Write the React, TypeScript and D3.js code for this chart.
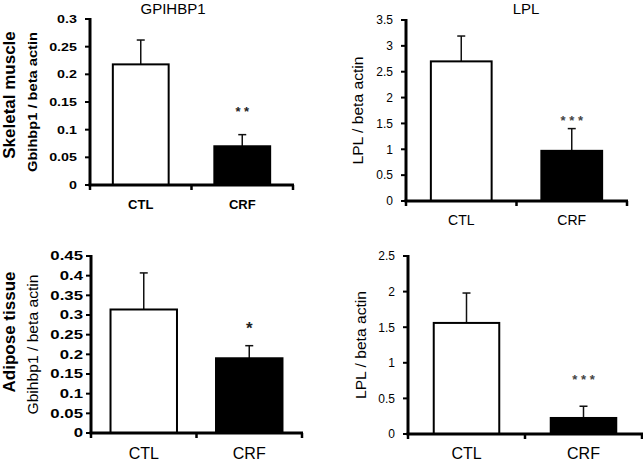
import React from "react";
import * as d3 from "d3";

const categories = ["CTL", "CRF"];

const gpMuscleMean = [0.218, 0.07];
const gpMuscleSem = [0.044, 0.021];
const gpMuscleTicks = [0, 0.05, 0.1, 0.15, 0.2, 0.25, 0.3];
const gpMuscleSig = ["", "* *"];

const lplMuscleMean = [2.7, 0.97];
const lplMuscleSem = [0.49, 0.43];
const lplMuscleTicks = [0, 0.5, 1, 1.5, 2, 2.5, 3, 3.5];
const lplMuscleSig = ["", "* * *"];

const gpAdiposeMean = [0.314, 0.19];
const gpAdiposeSem = [0.093, 0.032];
const gpAdiposeTicks = [0, 0.05, 0.1, 0.15, 0.2, 0.25, 0.3, 0.35, 0.4, 0.45];
const gpAdiposeSig = ["", "*"];

const lplAdiposeMean = [1.56, 0.225];
const lplAdiposeSem = [0.42, 0.165];
const lplAdiposeTicks = [0, 0.5, 1, 1.5, 2, 2.5];
const lplAdiposeSig = ["", "* * *"];

const FONT = "'Liberation Sans', Arial, sans-serif";

type PanelProps = {
  means: number[];
  sems: number[];
  ticks: number[];
  sig: string[];
  x0: number;
  x1: number;
  yTop: number;
  yBottom: number;
  barRatio: number;
  tickFont: number;
  tickBold: boolean;
  tickSx: number;
  tickGap: number;
  catFont: number;
  catBold: boolean;
  catBaseline: number;
  ylabel: string;
  ylabelX: number;
  ylabelLen: number;
  ylabelFont: number;
  ylabelBold: boolean;
  sigFont: number;
  sigColor: string;
  sigY: number;
};

function Panel(p: PanelProps) {
  const maxV = p.ticks[p.ticks.length - 1];
  const y = d3.scaleLinear().domain([0, maxV]).range([p.yBottom, p.yTop]);
  const x = d3.scaleBand<string>().domain(categories).range([p.x0, p.x1]).padding(0);
  const bw = x.bandwidth() * p.barRatio;
  const ymid = (p.yTop + p.yBottom) / 2;
  const fmt = (v: number) => String(+v.toFixed(2));
  const boundaries = [p.x0, ...categories.slice(1).map((c) => x(c) as number), p.x1];
  return (
    <g>
      {categories.map((c, i) => {
        const cx = (x(c) as number) + x.bandwidth() / 2;
        const top = y(p.means[i]);
        const et = y(p.means[i] + p.sems[i]);
        return (
          <g key={c}>
            <line x1={cx} x2={cx} y1={top} y2={et} stroke="#111" strokeWidth={1.5} />
            <line x1={cx - 4} x2={cx + 4} y1={et} y2={et} stroke="#111" strokeWidth={1.5} />
            <rect
              x={cx - bw / 2}
              y={top}
              width={bw}
              height={p.yBottom - top}
              fill={i === 0 ? "#fff" : "#000"}
              stroke="#000"
              strokeWidth={2}
            />
            {p.sig[i] && (
              <text
                x={cx}
                y={p.sigY + p.sigFont * 0.55}
                textAnchor="middle"
                fontFamily={FONT}
                fontWeight="bold"
                fontSize={p.sigFont}
                fill={p.sigColor}
              >
                {p.sig[i]}
              </text>
            )}
            <text
              x={cx}
              y={p.catBaseline}
              textAnchor="middle"
              fontFamily={FONT}
              fontWeight={p.catBold ? "bold" : "normal"}
              fontSize={p.catFont}
              fill="#000"
            >
              {c}
            </text>
          </g>
        );
      })}
      {/* y axis */}
      <line x1={p.x0} x2={p.x0} y1={p.yTop - 1} y2={p.yBottom + 1} stroke="#000" strokeWidth={3} />
      {p.ticks.map((t) => (
        <g key={t}>
          <line x1={p.x0 - 5} x2={p.x0} y1={y(t)} y2={y(t)} stroke="#000" strokeWidth={2} />
          <text
            transform={`translate(${p.x0 - p.tickGap},${y(t) + p.tickFont * 0.36}) scale(${p.tickSx},1)`}
            textAnchor="end"
            fontFamily={FONT}
            fontWeight={p.tickBold ? "bold" : "normal"}
            fontSize={p.tickFont}
            fill="#000"
          >
            {fmt(t)}
          </text>
        </g>
      ))}
      {/* x axis */}
      <line x1={p.x0 - 1.5} x2={p.x1 + 1} y1={p.yBottom} y2={p.yBottom} stroke="#000" strokeWidth={3} />
      {boundaries.map((b, i) => (
        <line key={i} x1={b} x2={b} y1={p.yBottom} y2={p.yBottom + 5} stroke="#000" strokeWidth={2.5} />
      ))}
      <text
        transform={`translate(${p.ylabelX},${ymid}) rotate(-90)`}
        textAnchor="middle"
        fontFamily={FONT}
        fontWeight={p.ylabelBold ? "bold" : "normal"}
        fontSize={p.ylabelFont}
        textLength={p.ylabelLen}
        lengthAdjust="spacingAndGlyphs"
        fill="#000"
      >
        {p.ylabel}
      </text>
    </g>
  );
}

export default function App() {
  return (
    <svg
      width={643}
      height={463}
      style={{ position: "absolute", left: 0, top: 0, background: "#fff" }}
    >
      <rect width={643} height={463} fill="#fff" />
      <text x={173} y={14} textAnchor="middle" fontFamily={FONT} fontSize={15} fill="#000">
        GPIHBP1
      </text>
      <text x={526} y={14} textAnchor="middle" fontFamily={FONT} fontSize={15} fill="#000">
        LPL
      </text>
      <text
        transform="translate(15,95) rotate(-90)"
        textAnchor="middle"
        fontFamily={FONT}
        fontWeight="bold"
        fontSize={17}
        fill="#000"
      >
        Skeletal muscle
      </text>
      <text
        transform="translate(15,332) rotate(-90)"
        textAnchor="middle"
        fontFamily={FONT}
        fontWeight="bold"
        fontSize={17}
        fill="#000"
      >
        Adipose tissue
      </text>
      <Panel
        means={gpMuscleMean}
        sems={gpMuscleSem}
        ticks={gpMuscleTicks}
        sig={gpMuscleSig}
        x0={90}
        x1={293}
        yTop={19}
        yBottom={185}
        barRatio={0.55}
        tickFont={11}
        tickBold={true}
        tickSx={1.3}
        tickGap={13}
        catFont={13}
        catBold={true}
        catBaseline={209}
        ylabel="Gbihbp1 / beta actin"
        ylabelX={37}
        ylabelLen={140}
        ylabelFont={13}
        ylabelBold={true}
        sigFont={13}
        sigColor="#222"
        sigY={109}
      />
      <Panel
        means={lplMuscleMean}
        sems={lplMuscleSem}
        ticks={lplMuscleTicks}
        sig={lplMuscleSig}
        x0={406}
        x1={627}
        yTop={20}
        yBottom={201}
        barRatio={0.55}
        tickFont={12}
        tickBold={false}
        tickSx={1}
        tickGap={13}
        catFont={14}
        catBold={false}
        catBaseline={225}
        ylabel="LPL / beta actin"
        ylabelX={363}
        ylabelLen={108}
        ylabelFont={15}
        ylabelBold={false}
        sigFont={13}
        sigColor="#444"
        sigY={118}
      />
      <Panel
        means={gpAdiposeMean}
        sems={gpAdiposeSem}
        ticks={gpAdiposeTicks}
        sig={gpAdiposeSig}
        x0={91}
        x1={302}
        yTop={256}
        yBottom={433}
        barRatio={0.63}
        tickFont={12}
        tickBold={true}
        tickSx={1.4}
        tickGap={8}
        catFont={16}
        catBold={false}
        catBaseline={459}
        ylabel="Gbihbp1 / beta actin"
        ylabelX={38}
        ylabelLen={140}
        ylabelFont={14}
        ylabelBold={false}
        sigFont={17}
        sigColor="#222"
        sigY={325}
      />
      <Panel
        means={lplAdiposeMean}
        sems={lplAdiposeSem}
        ticks={lplAdiposeTicks}
        sig={lplAdiposeSig}
        x0={408}
        x1={642}
        yTop={256}
        yBottom={434}
        barRatio={0.56}
        tickFont={12}
        tickBold={false}
        tickSx={1}
        tickGap={13}
        catFont={16}
        catBold={false}
        catBaseline={459}
        ylabel="LPL / beta actin"
        ylabelX={366}
        ylabelLen={108}
        ylabelFont={15}
        ylabelBold={false}
        sigFont={13}
        sigColor="#444"
        sigY={377}
      />
    </svg>
  );
}
